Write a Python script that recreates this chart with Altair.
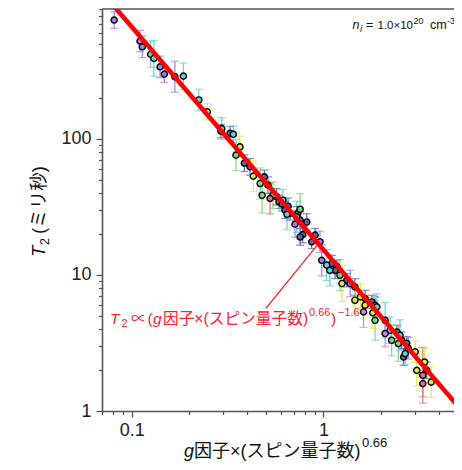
import altair as alt
import pandas as pd

# ---------------- data ----------------
navy_x = [0.292, 0.326, 0.387, 0.414, 0.492, 0.571, 0.587, 0.631, 0.670, 0.819, 0.780, 0.869,
          1.106, 1.175, 1.151, 1.325, 1.46, 1.79, 1.86, 2.42, 2.56, 2.72, 2.62, 3.46,
          0.735, 1.65, 0.514, 0.609, 0.756, 0.905, 0.654, 0.756]
navy_y = [114, 110, 66.3, 62.3, 52.6, 37.5, 34.4, 29.9, 28.3, 24.5, 19.8, 17.5,
          12.1, 11.5, 10.8, 9.14, 8.16, 6.33, 5.99, 3.81, 3.31, 3.15, 2.49, 1.99,
          28.4, 6.71, 45.7, 33.1, 25.3, 19.6, 32.0, 19.0]
navy_err = [0.12, 0.12, 0.15, 0.15, 0.12, 0.15, 0.12, 0.15, 0.12, 0.15, 0.15, 0.12,
            0.15, 0.12, 0.15, 0.12, 0.15, 0.12, 0.15, 0.12, 0.15, 0.12, 0.15, 0.15,
            0.12, 0.15, 0.15, 0.12, 0.15, 0.12, 0.15, 0.15]

purple_x = [0.081, 0.1105, 0.1136, 0.1406, 0.148, 0.168, 0.98, 0.96, 1.38, 2.77, 0.711]
purple_y = [746, 523, 475, 338, 299, 286, 12.8, 17.5, 8.65, 2.89, 23.6]
purple_err = [0.15, 0.2, 0.2, 0.2, 0.15, 0.3, 0.3, 0.2, 0.25, 0.2, 0.25]

cyan_x = [0.1256, 0.1306, 0.186, 0.224, 0.339, 0.295, 1.04, 2.23, 0.726, 2.67, 1.90,
          0.646, 0.615, 1.08, 2.10, 2.51]
cyan_y = [418, 390, 289, 193, 108, 119, 11.8, 3.92, 26.7, 2.64, 5.82,
          27.9, 35.4, 10.8, 4.64, 3.60]
cyan_err = [0.25, 0.35, 0.25, 0.2, 0.15, 0.2, 0.3, 0.25, 0.3, 0.2, 0.25,
            0.3, 0.2, 0.3, 0.35, 0.3]

yellow_x = [0.248, 0.367, 0.431, 1.56, 1.65, 1.81, 3.01, 3.37, 3.07, 3.65, 1.25, 1.46]
yellow_y = [158, 87.3, 53.2, 6.89, 5.99, 5.26, 2.72, 2.29, 1.99, 1.63, 8.65, 6.52]
yellow_err = [0.15, 0.2, 0.3, 0.25, 0.2, 0.3, 0.2, 0.25, 0.3, 0.3, 0.35, 0.25]

green_x = [0.350, 0.468, 0.546, 2.27, 2.46, 0.479, 0.756, 1.22, 1.86]
green_y = [75.9, 47.0, 38.5, 3.31, 3.13, 38.5, 30.4, 9.95, 4.64]
green_err = [0.3, 0.3, 0.25, 0.3, 0.35, 0.35, 0.3, 0.3, 0.4]

red_x = [0.527, 3.30, 3.30]
red_y = [36.5, 1.83, 1.59]
red_err = [0.3, 0.6, 0.25]

magenta_x = [2.10, 1.62]
magenta_y = [3.71, 5.35]
magenta_err = [0.25, 0.3]

fit_x = [0.078, 5.3]
fit_y = [1000, 1.0]

leader_x = [0.502, 0.927]
leader_y = [5.69, 16.5]

x_ticks = [0.07, 0.08, 0.09, 0.1, 0.2, 0.3, 0.4, 0.5, 0.6, 0.7, 0.8, 0.9, 1, 2, 3, 4]
y_ticks = [1, 2, 3, 4, 5, 6, 7, 8, 9, 10, 20, 30, 40, 50, 60, 70, 80, 90,
           100, 200, 300, 400, 500, 600, 700, 800, 900]

group_names = ["navy", "purple", "cyan", "yellow", "green", "red", "magenta"]
point_colors = ["#1f2a5c", "#6a4fc4", "#3cb8cc", "#e3e31a", "#3cb44a", "#c84050", "#c050d0"]
bar_colors = ["#5a62a8", "#9a7fe0", "#5fcfe0", "#e6e640", "#7ad87a", "#e07080", "#d080e0"]

groups = [
    ("navy", navy_x, navy_y, navy_err),
    ("purple", purple_x, purple_y, purple_err),
    ("cyan", cyan_x, cyan_y, cyan_err),
    ("yellow", yellow_x, yellow_y, yellow_err),
    ("green", green_x, green_y, green_err),
    ("red", red_x, red_y, red_err),
    ("magenta", magenta_x, magenta_y, magenta_err),
]
rows = []
for name, xs, ys, es in groups:
    for xv, yv, ev in zip(xs, ys, es):
        rows.append({"g": name, "x": xv, "y": yv, "lo": yv / (1 + ev), "hi": yv * (1 + ev)})
df = pd.DataFrame(rows)
fit_df = pd.DataFrame({"x": fit_x, "y": fit_y})
leader_df = pd.DataFrame({"x": leader_x, "y": leader_y})
one = pd.DataFrame({"d": [0]})

W, H = 352, 402
FONT = "Liberation Sans, Noto Sans CJK JP, sans-serif"
AXC = "#555555"

xscale = alt.Scale(type="log", domain=[0.07, 4.8])
yscale = alt.Scale(type="log", domain=[1, 900])

xaxis = alt.Axis(
    values=x_ticks, title=None, grid=False,
    labelExpr="datum.value == 0.1 ? '0.1' : (datum.value == 1 ? '1' : '')",
    tickSize={"condition": {"test": "datum.value == 0.1 || datum.value == 1", "value": 6}, "value": 3.5},
    labelPadding=4, labelFontSize=18, labelFont=FONT, labelColor="#222222",
    domainColor=AXC, domainWidth=1.6, tickColor=AXC, tickWidth=1.2, labelFlush=False,
)
yaxis = alt.Axis(
    values=y_ticks, title=None, grid=False,
    labelExpr="datum.value == 1 ? '1' : (datum.value == 10 ? '10' : (datum.value == 100 ? '100' : ''))",
    tickSize={"condition": {"test": "datum.value == 1 || datum.value == 10 || datum.value == 100", "value": 6}, "value": 3.5},
    labelPadding=5, labelFontSize=18, labelFont=FONT, labelColor="#222222",
    domainColor=AXC, domainWidth=1.6, tickColor=AXC, tickWidth=1.2, labelFlush=False,
)

bar_color = alt.Color("g:N", scale=alt.Scale(domain=group_names, range=bar_colors), legend=None)
pt_color = alt.Color("g:N", scale=alt.Scale(domain=group_names, range=point_colors), legend=None)

base = alt.Chart(df)
bars = base.mark_rule(strokeWidth=1.2).encode(
    x=alt.X("x:Q", scale=xscale, axis=xaxis),
    y=alt.Y("lo:Q", scale=yscale, axis=yaxis),
    y2="hi:Q",
    color=bar_color,
)
cap_lo = base.mark_tick(orient="horizontal", size=8, thickness=1.2).encode(
    x=alt.X("x:Q", scale=xscale, axis=xaxis),
    y=alt.Y("lo:Q", scale=yscale, axis=yaxis),
    color=bar_color,
)
cap_hi = base.mark_tick(orient="horizontal", size=8, thickness=1.2).encode(
    x=alt.X("x:Q", scale=xscale, axis=xaxis),
    y=alt.Y("hi:Q", scale=yscale, axis=yaxis),
    color=bar_color,
)
points = base.mark_circle(size=38, stroke="black", strokeWidth=1.4, opacity=1).encode(
    x=alt.X("x:Q", scale=xscale, axis=xaxis),
    y=alt.Y("y:Q", scale=yscale, axis=yaxis),
    color=pt_color,
)
fit = alt.Chart(fit_df).mark_line(color="#ff0000", strokeWidth=4.6, clip=True).encode(
    x=alt.X("x:Q", scale=xscale, axis=xaxis),
    y=alt.Y("y:Q", scale=yscale, axis=yaxis),
)
leader = alt.Chart(leader_df).mark_line(color="#ff2020", strokeWidth=1.2).encode(
    x=alt.X("x:Q", scale=xscale, axis=xaxis),
    y=alt.Y("y:Q", scale=yscale, axis=yaxis),
)
top_border = alt.Chart(one).mark_rule(color=AXC, strokeWidth=1.6).encode(
    x=alt.value(0), x2=alt.value(W), y=alt.value(0)
)

OX, OY = 102, 9  # screen position of plot origin


def txt(s, sx, sy, size, color="#111111", italic=False, angle=0):
    kw = dict(text=s, fontSize=size, font=FONT, color=color, align="left", baseline="alphabetic")
    if italic:
        kw["fontStyle"] = "italic"
    if angle:
        kw["angle"] = angle
    return alt.Chart(one).mark_text(**kw).encode(x=alt.value(sx - OX), y=alt.value(sy - OY))


RED = "#ff2030"
texts = [
    # fit annotation
    txt("T", 110, 324, 15.5, RED, italic=True),
    txt("2", 121.5, 327, 11, RED),
    txt("∝", 131, 324, 15.5, RED),
    txt("(", 147.5, 324, 15.5, RED),
    txt("g", 153, 324, 15.5, RED, italic=True),
    txt("因子×(スピン量子数)", 163, 324, 15.7, RED),
    txt("0.66", 309, 316, 11, RED),
    txt(")", 331, 324, 15.5, RED),
    txt("−1.6", 338, 316, 11, RED),
    # top-right annotation
    txt("n", 352.5, 29, 12.5, italic=True),
    txt("i", 360, 31.5, 9, italic=True),
    txt("=", 366, 29, 12.5),
    txt("1.0×10", 377.5, 29, 11.5),
    txt("20", 413.5, 23.5, 9),
    txt("cm", 430, 29, 12.5),
    txt("-3", 447, 23.5, 9),
    # x axis title
    txt("g", 184, 457, 18, italic=True),
    txt("因子×(スピン量子数)", 194, 457, 18),
    txt("0.66", 362, 447, 13),
    # y axis title (rotated)
    txt("T", 45, 257, 18.5, italic=True, angle=270),
    txt("2", 48.5, 245, 12.5, angle=270),
    txt("(ミリ秒)", 45, 234, 18.5, angle=270),
]

chart = alt.layer(bars, cap_lo, cap_hi, points, fit, leader, top_border, *texts).properties(
    width=W, height=H,
    autosize=alt.AutoSizeParams(type="none"),
    padding={"left": 94, "top": 1, "right": 0, "bottom": 51},
).configure_view(stroke=None)

chart.save("out.html", embed_options={"renderer": "svg", "actions": False})
